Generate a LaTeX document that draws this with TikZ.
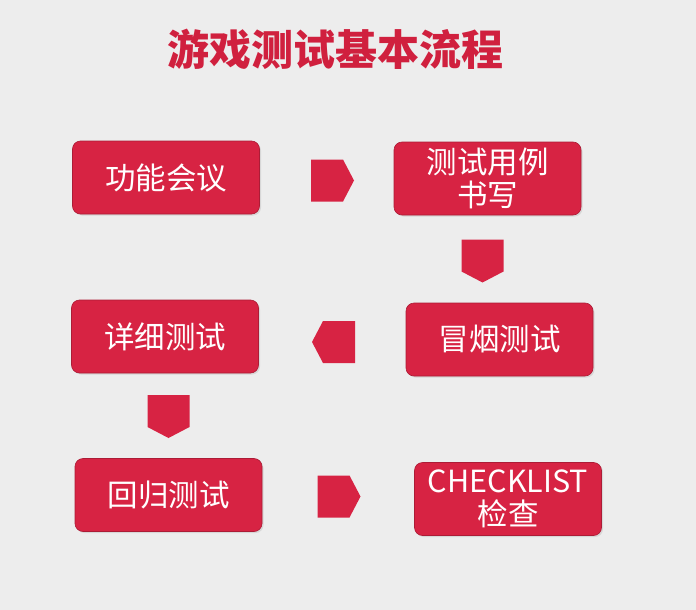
\documentclass[tikz,border=0pt]{standalone}
\usepackage{fontspec}
\newfontfamily\cjk{Noto Sans CJK SC}
\usetikzlibrary{shapes,shadows,positioning}
\definecolor{hongse}{RGB}{215,35,67}
\definecolor{biaotise}{RGB}{208,32,62}
\definecolor{beijing}{RGB}{237,237,237}

\begin{document}
\begin{tikzpicture}[x=1pt,y=-1pt,
    kuang/.style={rounded corners=8pt, fill=hongse, draw=hongse!80!black, line width=0.6pt,
        minimum width=187pt, minimum height=73pt, inner sep=0pt, text=white, align=center,
        font=\cjk\fontsize{30.5}{33}\selectfont,
        drop shadow={opacity=0.2, shadow xshift=1.5pt, shadow yshift=-1.5pt}},
    pics/jiantou/.style={code={
        \fill[hongse] (-21.5,-21) -- (10.5,-21) -- (21.5,0) -- (10.5,21) -- (-21.5,21) -- cycle;}}]
    \fill[beijing] (0,0) rectangle (696,610);
    \useasboundingbox (0,0) rectangle (696,610);
    % title
    \node[font=\cjk\bfseries\fontsize{42}{42}\selectfont, text=biaotise] (biaoti) at (335,49) {游戏测试基本流程};
    % steps
    \node[kuang] (gongneng) at (166,177.5) {功能会议};
    \node[kuang] (yongli) at (487.5,178.5) {测试用例\\书写};
    \node[kuang] (maoyan) at (499.5,339.5) {冒烟测试};
    \node[kuang] (xiangxi) at (165,336.5) {详细测试};
    \node[kuang] (huigui) at (168.5,495) {回归测试};
    \node[kuang] (checklist) at (508,499) {CHECKLIST\\检查};
    % arrows between the steps
    \pic (j1) at (332.5,180.5) {jiantou};
    \pic[rotate=-90] (j2) at (482.5,261) {jiantou};
    \pic[rotate=180] (j3) at (333.5,342) {jiantou};
    \pic[rotate=-90] (j4) at (168.5,416.5) {jiantou};
    \pic (j5) at (339,496.5) {jiantou};
\end{tikzpicture}
\end{document}
